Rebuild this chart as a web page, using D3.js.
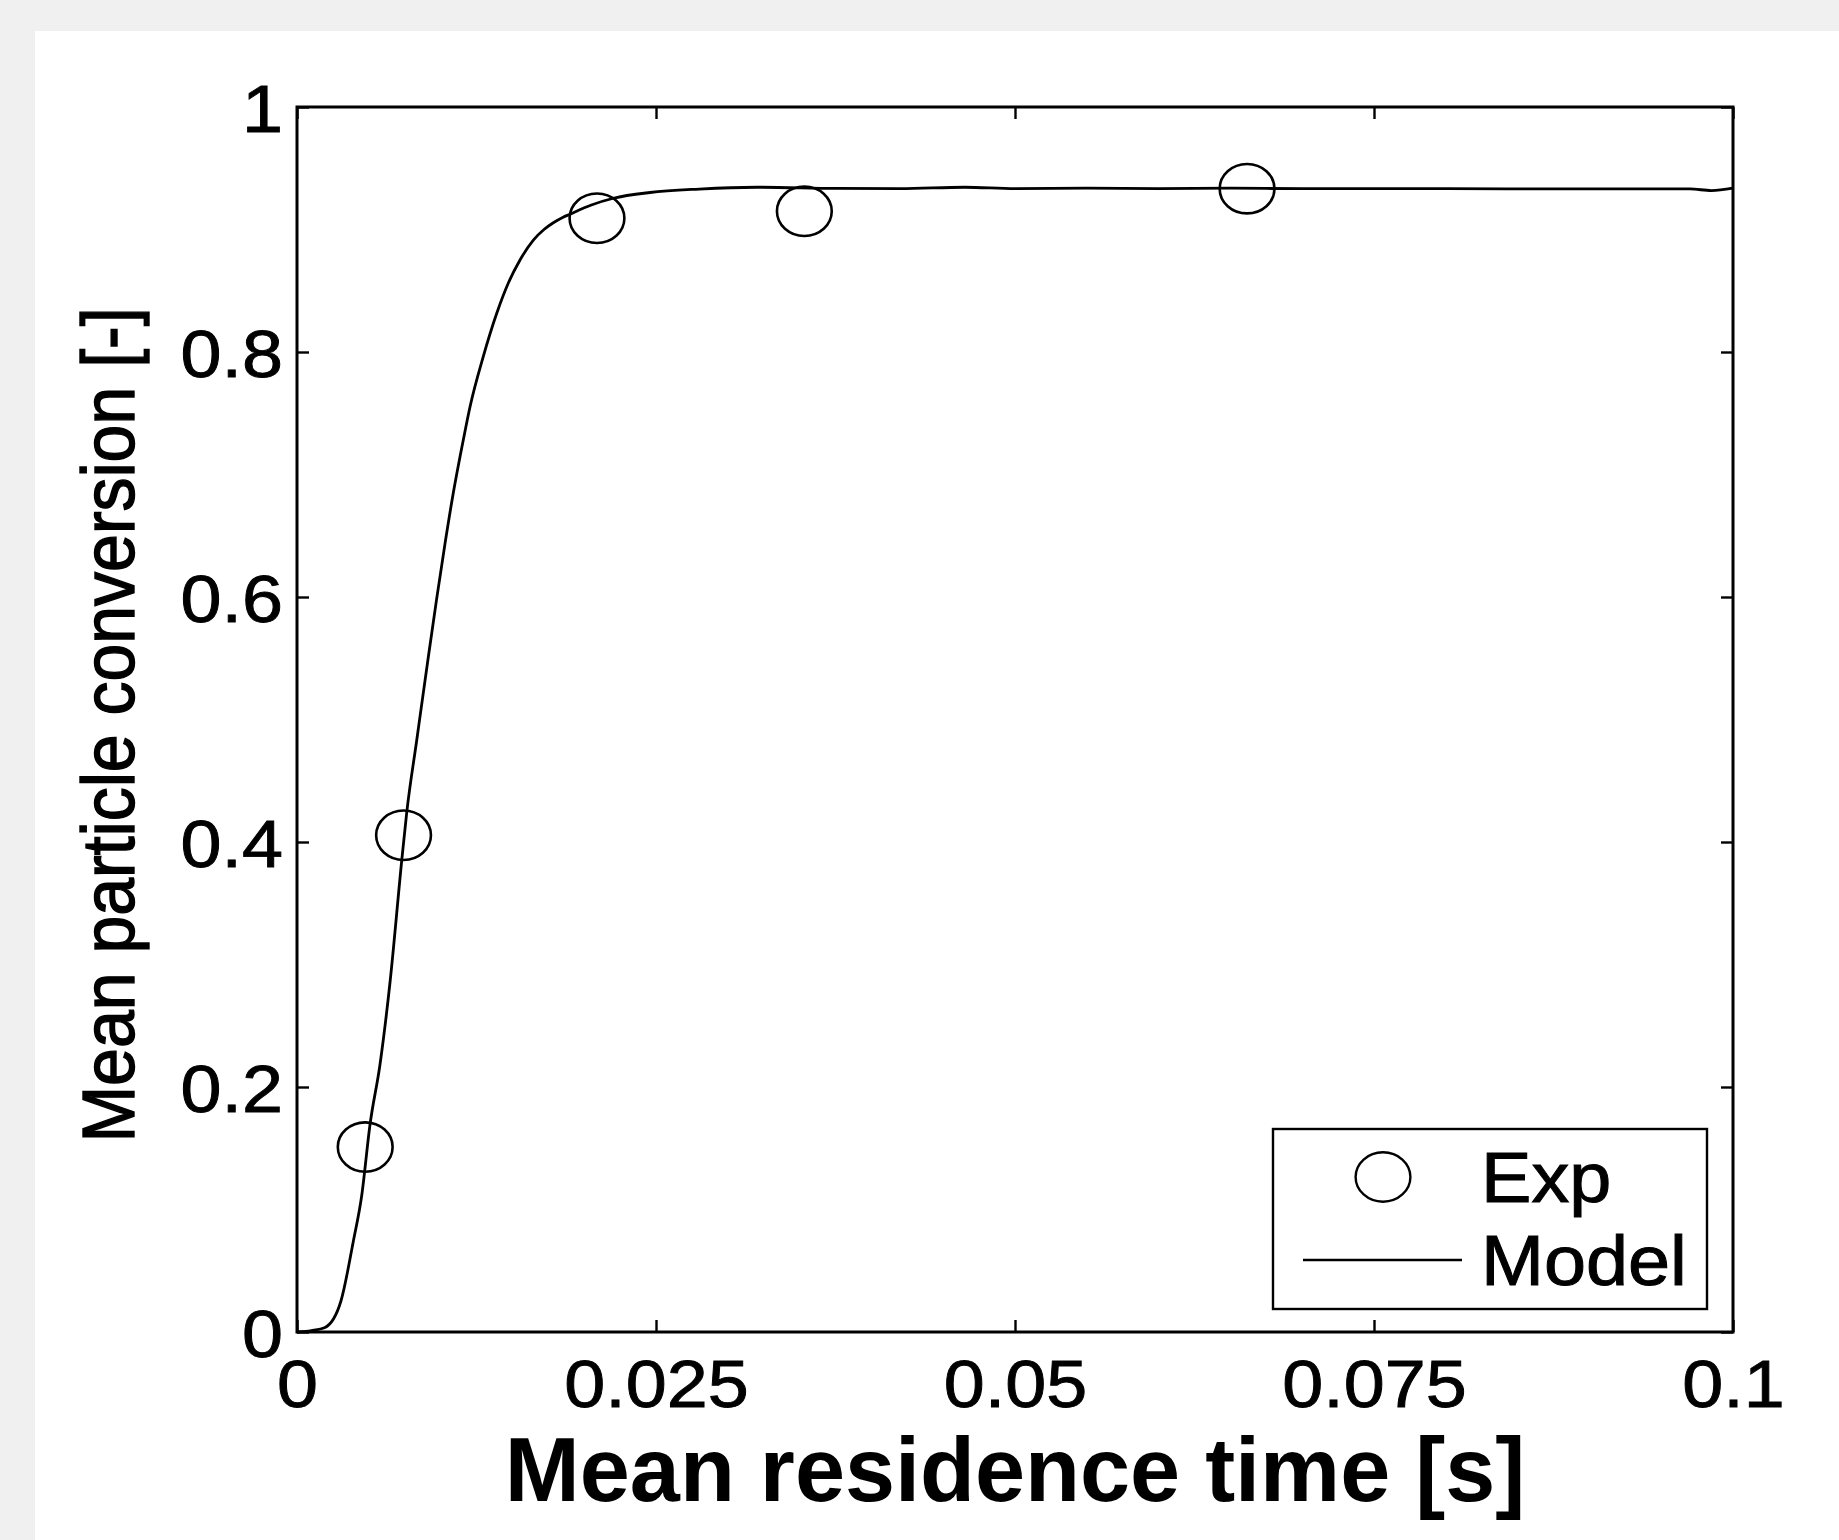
<!DOCTYPE html>
<html><head><meta charset="utf-8">
<script src="https://cdn.jsdelivr.net/npm/d3@7"></script>
<style>html,body{margin:0;padding:0;background:#eff0ef;} svg{display:block}</style>
</head><body><svg id="chart" width="1839" height="1540"></svg>
<script>
// ---- data ----
const xTicks = [0, 0.025, 0.05, 0.075, 0.1];
const xTickLabels = ["0", "0.025", "0.05", "0.075", "0.1"];
const yTicks = [0, 0.2, 0.4, 0.6, 0.8, 1];
const yTickLabels = ["0", "0.2", "0.4", "0.6", "0.8", "1"];
const seriesNames = ["Exp", "Model"];
const xTitle = "Mean residence time [s]";
const yTitle = "Mean particle conversion [-]";
const expTime = [0.00475, 0.00742, 0.02089, 0.03533, 0.06616];
const expConv = [0.151, 0.4055, 0.9092, 0.9149, 0.9333];
const modelTime = [0, 0.001, 0.00195, 0.00306, 0.00392, 0.00451, 0.00508, 0.00578, 0.00648, 0.00729,
  0.00764, 0.00834, 0.00914, 0.00973, 0.01031, 0.01088, 0.01158, 0.01205, 0.01297, 0.01391,
  0.01471, 0.01553, 0.01646, 0.0172, 0.01785, 0.0185, 0.01901, 0.0205, 0.02203, 0.02458,
  0.028, 0.032, 0.0375, 0.042, 0.0465, 0.05, 0.055, 0.06, 0.065, 0.07, 0.08, 0.09, 0.097, 0.0985, 0.1];
const modelConv = [0, 0.0011, 0.0037, 0.0253, 0.0739, 0.1116, 0.169, 0.2184, 0.2857, 0.3845,
  0.424, 0.4833, 0.5506, 0.5989, 0.6438, 0.6847, 0.7282, 0.7553, 0.7962, 0.8316,
  0.8561, 0.8751, 0.8914, 0.9000, 0.9055, 0.9098, 0.9125, 0.9200, 0.9255, 0.9302,
  0.9330, 0.9345, 0.9335, 0.9333, 0.9345, 0.9333, 0.9338, 0.9333, 0.9337, 0.9333, 0.9333, 0.9331, 0.9331, 0.9318, 0.9337];

// ---- layout ----
const svg = d3.select("#chart");
const L = 297, R = 1733, T = 107, B = 1332;
const FONT = "'Liberation Sans', Arial, Helvetica, sans-serif";
const STRETCH = 1.1;

svg.append("rect").attr("x", 35).attr("y", 31).attr("width", 1839 - 35).attr("height", 1540 - 31).attr("fill", "#ffffff");

const x = d3.scaleLinear().domain([0, 0.1]).range([L, R]);
const y = d3.scaleLinear().domain([0, 1]).range([B, T]);

// axes
const gB = svg.append("g").attr("transform", `translate(0,${B})`)
  .call(d3.axisBottom(x).tickValues(xTicks).tickSize(-12).tickSizeOuter(0).tickFormat((d, i) => xTickLabels[i]));
const gT = svg.append("g").attr("transform", `translate(0,${T})`)
  .call(d3.axisTop(x).tickValues(xTicks).tickSize(-12).tickSizeOuter(0).tickFormat(""));
const gL = svg.append("g").attr("transform", `translate(${L},0)`)
  .call(d3.axisLeft(y).tickValues(yTicks).tickSize(-12).tickSizeOuter(0).tickFormat((d, i) => yTickLabels[i]));
const gR = svg.append("g").attr("transform", `translate(${R},0)`)
  .call(d3.axisRight(y).tickValues(yTicks).tickSize(-12).tickSizeOuter(0).tickFormat(""));

[gB, gT, gL, gR].forEach(g => {
  g.select(".domain").remove();
  g.selectAll(".tick line").attr("stroke", "#000").attr("stroke-width", 2.4);
});

gB.selectAll(".tick text")
  .attr("y", 75).attr("dy", null)
  .attr("font-family", FONT).attr("font-size", 67).attr("fill", "#000")
  .attr("stroke", "#000").attr("stroke-width", 0.9)
  .attr("transform", `scale(${STRETCH},1)`);
gL.selectAll(".tick text")
  .attr("x", -14 / STRETCH).attr("dy", "0.37em")
  .attr("text-anchor", "end")
  .attr("font-family", FONT).attr("font-size", 67).attr("fill", "#000")
  .attr("stroke", "#000").attr("stroke-width", 0.9)
  .attr("transform", `scale(${STRETCH},1)`);
gB.attr("font-size", null).attr("font-family", null);
gL.attr("font-size", null).attr("font-family", null);

// frame
svg.append("rect").attr("x", L).attr("y", T).attr("width", R - L).attr("height", B - T)
  .attr("fill", "none").attr("stroke", "#000").attr("stroke-width", 3);

// model line
const modelData = modelTime.map((t, i) => [t, modelConv[i]]);
svg.append("path").datum(modelData)
  .attr("d", d3.line().x(d => x(d[0])).y(d => y(d[1])).curve(d3.curveMonotoneX))
  .attr("fill", "none").attr("stroke", "#000").attr("stroke-width", 2.8).attr("stroke-linejoin", "round");

// experimental markers
const expData = expTime.map((t, i) => [t, expConv[i]]);
svg.append("g").selectAll("ellipse").data(expData).join("ellipse")
  .attr("cx", d => x(d[0])).attr("cy", d => y(d[1]))
  .attr("rx", 27.4).attr("ry", 24.7)
  .attr("fill", "none").attr("stroke", "#000").attr("stroke-width", 2.6);

// axis titles
svg.append("text").attr("x", (L + R) / 2).attr("y", 1501)
  .attr("text-anchor", "middle").attr("font-family", FONT).attr("font-weight", "bold")
  .attr("font-size", 90).attr("fill", "#000").text(xTitle);
svg.append("text")
  .attr("transform", `translate(134,725) rotate(-90) scale(1,${STRETCH})`)
  .attr("text-anchor", "middle").attr("font-family", FONT)
  .attr("font-size", 68).attr("fill", "#000")
  .attr("stroke", "#000").attr("stroke-width", 1.3).text(yTitle);

// legend
const lg = svg.append("g");
lg.append("rect").attr("x", 1273).attr("y", 1129).attr("width", 1707 - 1273).attr("height", 1309 - 1129)
  .attr("fill", "#fff").attr("stroke", "#000").attr("stroke-width", 2.4);
lg.append("ellipse").attr("cx", 1383).attr("cy", 1177).attr("rx", 27.4).attr("ry", 24.7)
  .attr("fill", "none").attr("stroke", "#000").attr("stroke-width", 2.4);
lg.append("line").attr("x1", 1303).attr("x2", 1462).attr("y1", 1260).attr("y2", 1260)
  .attr("stroke", "#000").attr("stroke-width", 2.6);
lg.selectAll("text.lab").data(seriesNames).join("text").attr("class", "lab")
  .attr("transform", (d, i) => `translate(1481,${i === 0 ? 1202 : 1285}) scale(1.08,1)`)
  .attr("font-family", FONT).attr("font-size", 70).attr("fill", "#000")
  .attr("stroke", "#000").attr("stroke-width", 1.0).text(d => d);
</script>
</body></html>
